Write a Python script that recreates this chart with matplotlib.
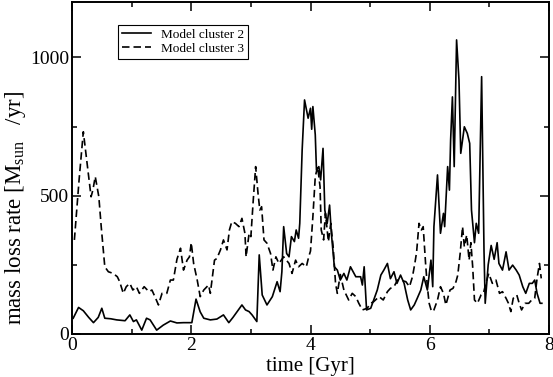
import numpy as np
import matplotlib
matplotlib.use('Agg')
import matplotlib.pyplot as plt
from matplotlib.ticker import MultipleLocator

plt.rcParams['font.family'] = ['Liberation Serif', 'DejaVu Serif']
plt.rcParams['mathtext.fontset'] = 'custom'
plt.rcParams['mathtext.rm'] = 'Liberation Serif'
plt.rcParams['mathtext.it'] = 'Liberation Serif:italic'

# model cluster 2 (solid)
t2 = [0.02, 0.11, 0.19, 0.28, 0.36, 0.44, 0.50, 0.55, 0.65, 0.75, 0.89, 0.97, 1.03, 1.08,
      1.17, 1.25, 1.31, 1.42, 1.53, 1.65, 1.76, 1.87, 2.01, 2.08, 2.15, 2.21, 2.32, 2.43,
      2.54, 2.63, 2.70, 2.77, 2.85, 2.91, 2.97, 3.02, 3.10, 3.14, 3.19, 3.27, 3.36, 3.44,
      3.49, 3.52, 3.55, 3.60, 3.64, 3.68, 3.73, 3.76, 3.80, 3.82, 3.86, 3.90, 3.96, 4.00,
      4.02, 4.04, 4.08, 4.10, 4.14, 4.17, 4.21, 4.24, 4.28, 4.32, 4.35, 4.40, 4.45, 4.50,
      4.56, 4.61, 4.67, 4.76, 4.84, 4.87, 4.90, 4.94, 5.01, 5.06, 5.12, 5.18, 5.23, 5.29,
      5.34, 5.40, 5.45, 5.51, 5.57, 5.63, 5.68, 5.74, 5.79, 5.85, 5.90, 5.96, 6.02, 6.05,
      6.07, 6.13, 6.18, 6.23, 6.25, 6.30, 6.33, 6.35, 6.38, 6.41, 6.45, 6.49, 6.52, 6.58,
      6.63, 6.67, 6.70, 6.72, 6.75, 6.78, 6.82, 6.87, 6.91, 6.93, 6.98, 7.03, 7.08, 7.13,
      7.16, 7.22, 7.28, 7.33, 7.39, 7.45, 7.50, 7.56, 7.61, 7.67, 7.72, 7.76, 7.80, 7.85,
      7.88]
m2 = [57, 96, 84, 60, 41, 60, 93, 57, 55, 51, 48, 69, 45, 51,
      14, 57, 51, 14, 32, 47, 40, 41, 41, 126, 80, 57, 51, 54,
      69, 41, 60, 81, 105, 87, 81, 69, 45, 286, 141, 105, 135, 189,
      153, 225, 388, 291, 279, 352, 334, 376, 346, 400, 665, 846, 780, 816,
      740, 822, 720, 593, 605, 557, 671, 448, 400, 466, 364, 243, 231, 195,
      219, 195, 243, 207, 207, 177, 243, 87, 93, 123, 159, 213, 231, 255,
      200, 225, 183, 213, 183, 123, 87, 105, 129, 159, 207, 159, 267, 171,
      388, 575, 364, 436, 388, 605, 520, 701, 857, 605, 1063, 918, 653, 749,
      725, 689, 448, 400, 330, 400, 364, 930, 300, 111, 250, 320, 270, 330,
      255, 231, 297, 231, 249, 231, 213, 171, 147, 183, 183, 195, 147, 111,
      111]

# model cluster 3 (dashed)
t3 = [0.04, 0.12, 0.19, 0.24, 0.32, 0.35, 0.39, 0.45, 0.49, 0.55, 0.61, 0.69, 0.76, 0.80,
      0.86, 0.91, 0.97, 1.02, 1.08, 1.13, 1.21, 1.29, 1.34, 1.39, 1.45, 1.51, 1.59, 1.65,
      1.70, 1.76, 1.82, 1.87, 1.93, 1.97, 2.00, 2.04, 2.10, 2.15, 2.21, 2.29, 2.32, 2.39,
      2.43, 2.49, 2.54, 2.60, 2.64, 2.68, 2.74, 2.80, 2.85, 2.90, 2.92, 2.97, 3.00, 3.04,
      3.08, 3.12, 3.15, 3.18, 3.22, 3.27, 3.33, 3.37, 3.42, 3.47, 3.55, 3.64, 3.69, 3.75,
      3.80, 3.86, 3.93, 3.97, 4.00, 4.04, 4.08, 4.12, 4.16, 4.18, 4.22, 4.25, 4.30, 4.34,
      4.38, 4.42, 4.45, 4.50, 4.56, 4.64, 4.70, 4.76, 4.81, 4.87, 4.95, 5.01, 5.06, 5.15,
      5.22, 5.29, 5.34, 5.40, 5.46, 5.51, 5.60, 5.66, 5.71, 5.75, 5.78, 5.82, 5.86, 5.89,
      5.93, 5.96, 5.99, 6.03, 6.07, 6.13, 6.18, 6.23, 6.27, 6.34, 6.39, 6.44, 6.47, 6.51,
      6.55, 6.58, 6.62, 6.66, 6.69, 6.72, 6.75, 6.80, 6.86, 6.90, 6.94, 6.99, 7.05, 7.11,
      7.17, 7.22, 7.28, 7.32, 7.36, 7.40, 7.46, 7.50, 7.54, 7.60, 7.66, 7.71, 7.76, 7.80,
      7.84, 7.87]
m3 = [340, 560, 731, 641, 496, 520, 569, 496, 388, 243, 225, 219, 207, 189,
      147, 171, 183, 159, 171, 147, 171, 153, 159, 135, 105, 147, 147, 195,
      195, 270, 310, 231, 267, 279, 330, 255, 195, 135, 159, 177, 147, 267,
      273, 304, 340, 304, 376, 406, 400, 388, 418, 364, 279, 364, 352, 484,
      605, 508, 448, 460, 340, 328, 291, 231, 279, 255, 279, 255, 219, 267,
      243, 255, 243, 279, 300, 424, 569, 605, 533, 376, 340, 436, 334, 400,
      315, 183, 147, 215, 159, 123, 147, 135, 111, 87, 93, 111, 117, 135,
      123, 153, 165, 171, 195, 195, 189, 171, 207, 255, 297, 400, 376, 388,
      255, 171, 111, 81, 87, 123, 171, 147, 105, 159, 165, 189, 213, 291,
      388, 315, 358, 267, 330, 243, 123, 111, 141, 147, 183, 219, 183, 195,
      147, 153, 129, 111, 81, 129, 141, 111, 87, 111, 111, 123, 129, 201,
      255, 201]

fig = plt.figure(figsize=(5.53, 3.77), dpi=100)
ax = fig.add_axes([72 / 553, 43 / 377, 477 / 553, 332 / 377])

ax.plot(t2, m2, 'k-', lw=1.2, label='Model cluster 2')
ax.plot(t3, m3, color='k', lw=1.2, linestyle=(0, (4.5, 2.4)), label='Model cluster 3')

ax.set_xlim(0, 8)
ax.set_ylim(0, 1200)
ax.xaxis.set_major_locator(MultipleLocator(2))
ax.xaxis.set_minor_locator(MultipleLocator(1))
ax.yaxis.set_major_locator(MultipleLocator(500))
ax.yaxis.set_minor_locator(MultipleLocator(250))
ax.tick_params(which='both', direction='in', top=True, right=True, labelsize=14, width=1.1)
ax.tick_params(which='major', length=6.5, pad=2)
ax.tick_params(which='minor', length=3.5)
for sp in ax.spines.values():
    sp.set_linewidth(1.4)

ax.set_xlabel('time [Gyr]', fontsize=15, labelpad=2)
ax.set_ylabel(r'mass loss rate [M$_{\rm sun}$   /yr]', fontsize=16.5)
ax.yaxis.set_label_coords(-0.093, 0.38)

leg = ax.legend(loc='upper left', bbox_to_anchor=(0.096, 0.931), fontsize=9.5,
                frameon=True, fancybox=False, edgecolor='k', framealpha=1,
                borderaxespad=0, handlelength=2.2, borderpad=0.3, labelspacing=0.1)
leg.get_frame().set_linewidth(0.8)

fig.savefig('out.png', dpi=100)
